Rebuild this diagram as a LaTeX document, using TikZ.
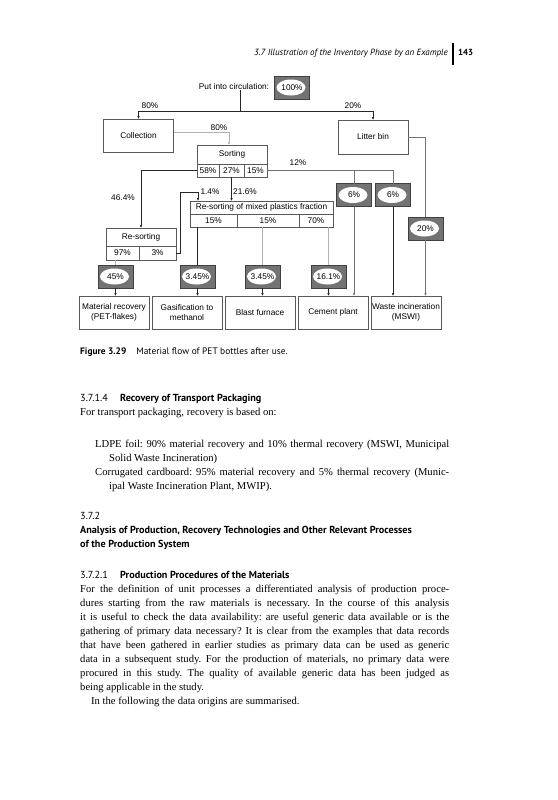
\documentclass[tikz,border=0pt]{standalone}
\usepackage{fontspec}
\setmainfont{Liberation Serif}
\newfontfamily\diagfont{Liberation Sans}
\newfontfamily\headfont{PT Sans}
\usetikzlibrary{positioning}
\usetikzlibrary{arrows.meta}
\frenchspacing

\newcommand{\dg}{\diagfont\fontsize{8.3}{9.6}\selectfont}

\begin{document}
\begin{tikzpicture}[x=1pt,y=-1pt,>={Latex[length=3pt,width=2.6pt]},
  flow node/.style={draw=black!65,line width=0.6pt,inner sep=0pt,outer sep=0pt,minimum width=70pt,align=center,font=\dg},
  cell node/.style={flow node,minimum height=13pt},
  value node/.style={draw=black!75,fill=black!55,line width=0.6pt,inner sep=0pt,outer sep=0pt,minimum width=35pt,minimum height=23pt,font=\dg,
    path picture={\fill[white] ([xshift=-1pt]path picture bounding box.center) ellipse [x radius=14.5pt,y radius=8pt];}},
  dark line/.style={draw=black!85,line width=0.6pt},
  mid line/.style={draw=black!55,line width=0.8pt},
  light line/.style={draw=black!30,line width=1pt},
  lbl/.style={font=\dg,inner sep=0pt},
  page text/.style={font=\fontsize{10.6}{14.1}\selectfont,align=justify,inner sep=0pt,anchor=base west},
  page head/.style={font=\headfont\fontsize{10.2}{14.1}\selectfont,inner sep=0pt,anchor=base west}]

\fill[white] (0,0) rectangle (557,800);
\useasboundingbox (0,0) rectangle (557,800);

% running head
\node[anchor=base east,inner sep=0pt,font=\headfont\itshape\fontsize{9}{10}\selectfont] (run) at (448,56) {3.7 Illustration of the Inventory Phase by an Example};
\draw[line width=1.3pt] (453,43) -- (453,65);
\node[anchor=base west,inner sep=0pt,font=\headfont\bfseries\fontsize{8.8}{10}\selectfont] (folio) at (458,56) {143};

% Nodes
\node[lbl] (0) at (234,87) {Put into circulation:};
\node[value node] (1) at (292,87.5) {100\%};
\node[flow node,minimum height=33pt] (2) at (138.5,135.5) {Collection};
\node[flow node,minimum height=34pt] (3) at (373,137) {Litter bin};

\node[flow node,minimum height=19pt] (4) at (232,154.5) {Sorting};
\node[cell node,minimum width=22pt,anchor=north west] (41) at (4.south west) {58\%};
\node[cell node,minimum width=25pt,right=0pt of 41] (42) {27\%};
\node[cell node,minimum width=23pt,right=0pt of 42] (43) {15\%};

\node[flow node,minimum height=18pt] (5) at (141,237) {Re-sorting};
\node[cell node,minimum width=33pt,minimum height=14pt,anchor=north west] (51) at (5.south west) {97\%};
\node[cell node,minimum width=37pt,minimum height=14pt,right=0pt of 51] (52) {3\%};

\node[flow node,minimum width=143pt,minimum height=13pt] (6) at (261.5,207.5) {Re-sorting of mixed plastics fraction};
\node[cell node,minimum width=47pt,anchor=north west] (61) at (6.south west) {15\%};
\node[cell node,minimum width=62pt,right=0pt of 61] (62) {15\%};
\node[cell node,minimum width=34pt,right=0pt of 62] (63) {70\%};

\node[value node] (7) at (354,195) {6\%};
\node[value node] (8) at (393,195) {6\%};
\node[value node] (9) at (425.5,228.5) {20\%};
\node[value node] (10) at (115.5,276.5) {45\%};
\node[value node] (11) at (197.5,276.5) {3.45\%};
\node[value node] (12) at (262.5,276.5) {3.45\%};
\node[value node] (13) at (328.5,276.5) {16.1\%};

\node[flow node,minimum height=33pt] (14) at (114,312.5) {Material recovery\\(PET-flakes)};
\node[flow node,minimum height=33pt] (15) at (187,312.5) {Gasification to\\methanol};
\node[flow node,minimum height=33pt] (16) at (260,312.5) {Blast furnace};
\node[flow node,minimum height=33pt] (17) at (333,312.5) {Cement plant};
\node[flow node,minimum height=33pt] (18) at (406,312.5) {Waste incineration\\(MSWI)};

% shares
\node[lbl] (l1) at (150,106) {80\%};
\node[lbl] (l2) at (353,106) {20\%};
\node[lbl] (l3) at (219,128) {80\%};
\node[lbl] (l4) at (123,198) {46.4\%};
\node[lbl] (l5) at (245,192) {21.6\%};
\node[lbl] (l6) at (210,192) {1.4\%};
\node[lbl] (l7) at (298,163) {12\%};

% flows
\coordinate (split) at (240,111);
\coordinate (k1) at (198,192);
\draw[dark line] (0.south -| split) -- (split);
\draw[dark line,->] (split) -| (2.north);
\draw[dark line,->] (split) -| (3.north);
\draw[light line,->] ([yshift=3pt]2.east) -| ([xshift=-3pt]4.north);
\draw[dark line,->] (41.west) -| (5.north);
\draw[dark line,->] (42.south) -- (42.south |- 6.north);
\draw[dark line,->] (52.east) -- ++(4,0) |- (k1) -- (k1 |- 6.north);
\draw[mid line] (43.east) -| (8.north);
\draw[mid line] (43.east -| 7.north) -- (7.north);
\draw[mid line] (3.east) -| (9.north);
\draw[mid line,->] (9.south) -- (9.south |- 18.north);
\draw[mid line,->] (7.south) -- (7.south |- 17.north);
\draw[dark line,->] (8.south) -- (8.south |- 18.north);
\draw[light line] (51.south -| 10.north) -- (10.north);
\draw[dark line] (61.south -| 11.north) -- (11.north);
\draw[light line] (62.south -| 12.north) -- (12.north);
\draw[light line] (63.south -| 13.north) -- (13.north);
\foreach \a/\b in {10/14,11/15,12/16,13/17}
  \draw[dark line,->] (\a.south) -- (\a.south |- \b.north);

% text of the page
\node[page head,font=\headfont\fontsize{9.4}{10}\selectfont] (cap) at (80,354) {\textbf{Figure 3.29}\hspace{10pt}Material flow of PET bottles after use.};
\node[page head] (h1) at (80,401) {\makebox[40pt][l]{3.7.1.4}\textbf{Recovery of Transport Packaging}};
\node[page text,text width=369pt] (p1) at (80,415) {For transport packaging, recovery is based on:};
\node[page text,text width=340pt] (i1) at (109,447) {\hspace*{-14pt}LDPE foil: 90\% material recovery and 10\% thermal recovery (MSWI, Municipal\linebreak Solid Waste Incineration)};
\node[page text,text width=340pt] (i2) at (109,475) {\hspace*{-14pt}Corrugated cardboard: 95\% material recovery and 5\% thermal recovery (Munic-\linebreak ipal Waste Incineration Plant, MWIP).};
\node[page head] (h2) at (80,519) {3.7.2};
\node[page head,font=\headfont\bfseries\fontsize{10.2}{14.1}\selectfont] (h3) at (80,533) {Analysis of Production, Recovery Technologies and Other Relevant Processes};
\node[page head,font=\headfont\bfseries\fontsize{10.2}{14.1}\selectfont] (h4) at (80,547) {of the Production System};
\node[page head] (h5) at (80,578) {\makebox[40pt][l]{3.7.2.1}\textbf{Production Procedures of the Materials}};
\node[page text,text width=369pt] (p2) at (80,592) {For the definition of unit processes a differentiated analysis of production proce-\linebreak dures starting from the raw materials is necessary. In the course of this analysis\linebreak it is useful to check the data availability: are useful generic data available or is the\linebreak gathering of primary data necessary? It is clear from the examples that data records\linebreak that have been gathered in earlier studies as primary data can be used as generic\linebreak data in a subsequent study. For the production of materials, no primary data were\linebreak procured in this study. The quality of available generic data has been judged as\linebreak being applicable in the study.};
\node[page text,text width=358pt] (p3) at (91,704) {In the following the data origins are summarised.};

\end{tikzpicture}
\end{document}
